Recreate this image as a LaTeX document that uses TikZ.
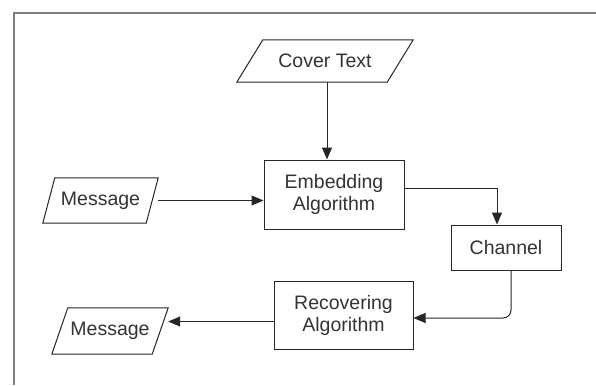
\documentclass[tikz,border=0pt]{standalone}
\usepackage{fontspec}
\setmainfont{Liberation Sans}
\usetikzlibrary{arrows.meta,calc}
\definecolor{txt}{HTML}{333333}
\definecolor{ln}{HTML}{262626}
\definecolor{framegray}{HTML}{7F7F7F}
% parallelogram outline drawn inside an (invisible) rectangular node
\newcommand\ioshape[2]{%
  \draw[ln, line width=1bp, line join=miter]
    (#1.south west) -- ([xshift=-#2bp]#1.south east) --
    (#1.north east) -- ([xshift=#2bp]#1.north west) -- cycle;}
\begin{document}
\begin{tikzpicture}[x=1bp, y=-1bp,
  lbl/.style={font=\fontsize{19.5bp}{22bp}\selectfont, text=txt, align=center, inner sep=0pt},
  procbox/.style={lbl, draw=ln, line width=1bp},
  iobox/.style={lbl},
  conn/.style={draw=ln, line width=1bp, -{Triangle[length=12bp,width=10bp]}}]
\useasboundingbox (0,0) rectangle (596,385);
\fill[white] (0,0) rectangle (596,385);

% outer frame
\draw[framegray, line width=2bp] (596,13) -- (14,13) -- (14,385);

% input / output shapes
\node[iobox, minimum width=176bp, minimum height=42bp] (cover) at (325,61) {Cover Text};
\ioshape{cover}{26}
\node[iobox, minimum width=115bp, minimum height=45bp] (msgin) at (100.5,200.5) {Message};
\ioshape{msgin}{12}
\node[iobox, minimum width=116bp, minimum height=46bp] (msgout) at (110,331) {Message};
\ioshape{msgout}{16}

% process boxes
\node[procbox, minimum width=140bp, minimum height=69bp] (emb) at (334,194.5) {Embedding\\Algorithm};
\node[procbox, minimum width=110bp, minimum height=45bp] (chan) at (506,247.5) {Channel};
\node[procbox, minimum width=139bp, minimum height=68bp] (rec) at (343.5,315) {Recovering\\Algorithm};

% connectors
\draw[conn] ([xshift=2bp]cover.south) -- ([xshift=2bp]cover.south |- emb.north);
\draw[conn] (msgin.east) -- (msgin.east -| emb.west);
\draw[conn] (emb.east |- 0,188) -| ([xshift=-9bp]chan.north);
\draw[conn, rounded corners=8bp] ([xshift=5bp]chan.south) |- (rec.east |- 0,318);
\draw[conn] (rec.west |- 0,321.5) -- (msgout.east |- 0,321.5);
\end{tikzpicture}
\end{document}
